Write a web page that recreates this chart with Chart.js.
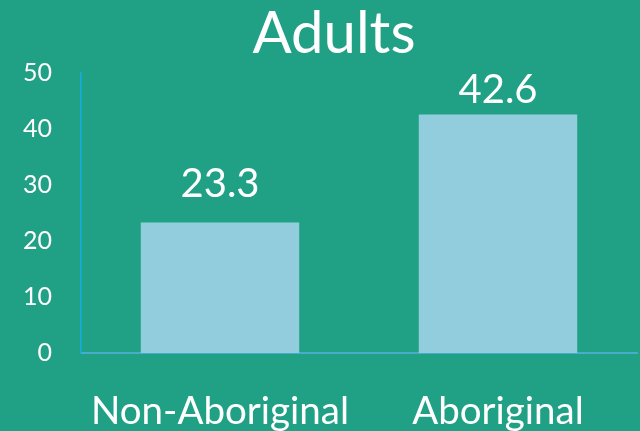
<!DOCTYPE html>
<html lang="en">
<head>
    <meta charset="UTF-8">
    <title>Adults</title>
    <script src="https://cdn.jsdelivr.net/npm/chart.js"></script>
    <style>
        html, body {
            margin: 0;
            padding: 0;
            background-color: #20a084;
            overflow: hidden;
        }

        .chart-box {
            width: 640px;
            height: 431px;
        }
    </style>
</head>
<body>
    <div class="chart-box">
        <canvas id="adultsChart" width="640" height="431"></canvas>
    </div>

    <script>
        const chartTitle = 'Adults';
        const categories = ['Non-Aboriginal', 'Aboriginal'];
        const adultValues = [23.3, 42.6];
        const yTicks = [0, 10, 20, 30, 40, 50];

        const fontFamily = "Lato, 'Open Sans', sans-serif";

        // title sits a little right of centre, like the original slide
        const titleText = {
            id: 'titleText',
            afterDraw(chart) {
                const ctx = chart.ctx;
                ctx.save();
                ctx.fillStyle = '#ffffff';
                ctx.font = '58px ' + fontFamily;
                ctx.textAlign = 'center';
                ctx.textBaseline = 'alphabetic';
                ctx.fillText(chartTitle, 334, 53);
                ctx.restore();
            }
        };

        // value labels sit above each bar, kept inside the plot area
        const valueLabels = {
            id: 'valueLabels',
            afterDatasetsDraw(chart) {
                const ctx = chart.ctx;
                const meta = chart.getDatasetMeta(0);
                ctx.save();
                ctx.fillStyle = '#ffffff';
                ctx.font = '40px ' + fontFamily;
                ctx.textAlign = 'center';
                ctx.textBaseline = 'alphabetic';
                meta.data.forEach((bar, i) => {
                    const y = Math.max(bar.y - 26, chart.chartArea.top + 30);
                    ctx.fillText(adultValues[i].toFixed(1), bar.x, y);
                });
                ctx.restore();
            }
        };

        const ctx = document.getElementById('adultsChart').getContext('2d');

        new Chart(ctx, {
            type: 'bar',
            data: {
                labels: categories,
                datasets: [{
                    label: chartTitle,
                    data: adultValues,
                    backgroundColor: '#92cddd',
                    borderWidth: 0,
                    categoryPercentage: 1,
                    barPercentage: 0.57
                }]
            },
            options: {
                responsive: false,
                animation: false,
                layout: {
                    padding: { left: 0, right: 3, top: 73, bottom: 0 }
                },
                plugins: {
                    legend: { display: false },
                    tooltip: { enabled: false },
                    title: { display: false }
                },
                scales: {
                    x: {
                        grid: { display: false, drawTicks: false },
                        border: { display: true, color: '#4aaccb', width: 2 },
                        ticks: {
                            color: '#ffffff',
                            padding: 35,
                            font: { family: fontFamily, size: 38.5 }
                        },
                        afterFit(scale) { scale.height = 78; }
                    },
                    y: {
                        min: 0,
                        max: 50,
                        afterBuildTicks(scale) {
                            scale.ticks = yTicks.map(v => ({ value: v }));
                        },
                        grid: { display: false, drawTicks: false },
                        border: { display: true, color: '#14ace4', width: 1.5 },
                        ticks: {
                            color: '#ffffff',
                            padding: 29,
                            font: { family: fontFamily, size: 25 }
                        },
                        afterFit(scale) { scale.width = 81; }
                    }
                }
            },
            plugins: [valueLabels, titleText]
        });
    </script>
</body>
</html>
